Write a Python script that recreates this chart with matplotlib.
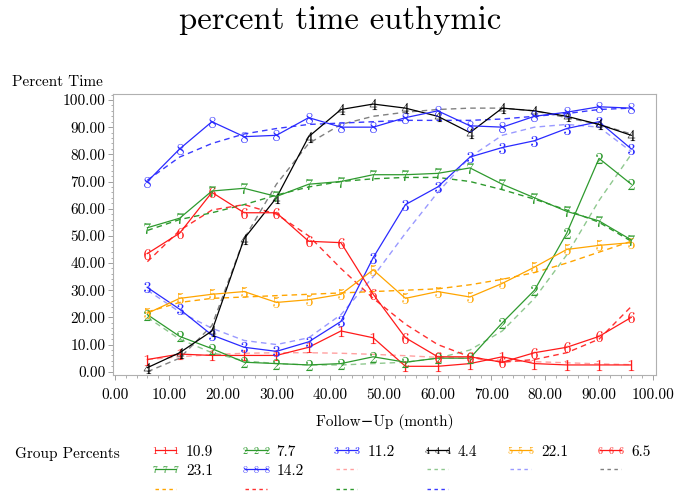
import numpy as np
import matplotlib
matplotlib.use("Agg")
import matplotlib.pyplot as plt
from matplotlib.lines import Line2D
from matplotlib.ticker import MultipleLocator, FormatStrFormatter

plt.rcParams.update({"font.family": ["cmr10", "DejaVu Serif"], "mathtext.fontset": "cm",
                     "axes.formatter.use_mathtext": True})

# follow-up months
months = [6, 12, 18, 24, 30, 36, 42, 48, 54, 60, 66, 72, 78, 84, 90, 96]
group_pct = ["10.9", "7.7", "11.2", "4.4", "22.1", "6.5", "23.1", "14.2"]

# observed percent time euthymic, groups 1..8
obs1 = [4.5, 6.5, 6.0, 6.0, 6.0, 9.0, 15.0, 12.5, 2.0, 2.0, 3.0, 5.5, 3.0, 2.5, 2.5, 2.5]
obs2 = [21, 13, 8.5, 3.5, 3, 2.5, 3, 5.5, 3.5, 5, 5, 18, 30, 51, 78.5, 69]
obs3 = [31, 23, 13.5, 9, 7.5, 11, 18.5, 42, 61.5, 68, 79, 82.5, 85, 89.5, 92, 82]
obs4 = [1.5, 7, 15, 49, 64, 86.5, 96.5, 98.5, 97, 94, 88, 97, 96, 94, 91, 87]
obs5 = [21.5, 27, 28.5, 29.5, 25.5, 26.5, 28.5, 37.5, 27, 29.5, 27.5, 32.5, 38.5, 45, 46.5, 47.5]
obs6 = [43.5, 51, 66, 58.5, 58.5, 48, 47.5, 28.5, 12.5, 5.5, 5.5, 3.5, 7, 9, 13, 20]
obs7 = [53, 56.5, 66.5, 67.5, 64.5, 69, 70, 72.5, 72.5, 73, 75, 69, 64, 59, 55.5, 48.5]
obs8 = [70, 82, 92, 86.5, 87, 93.5, 90, 90, 93.5, 96, 90.5, 90, 94, 95.5, 97.5, 97]

# predicted trajectories, groups 1..8
pred1 = [4.5, 5.5, 6.3, 6.8, 7.0, 7.0, 6.8, 6.4, 5.9, 5.3, 4.8, 4.2, 3.7, 3.3, 2.9, 2.6]
pred2 = [20, 12, 7, 4, 3, 2.5, 2.5, 3, 3.5, 5, 8, 15, 27, 43, 63, 80]
pred3 = [30, 22, 16, 11.5, 10, 12.5, 21, 35, 51, 66, 79, 87, 90, 91, 90, 81]
pred4 = [0, 5, 17, 49, 69, 84, 91, 94, 95.5, 96.5, 97, 97, 96, 93.5, 91, 87.5]
pred5 = [22, 25.5, 27, 27.5, 28, 28.5, 29, 29.5, 30, 30.5, 32, 34, 36.5, 40, 44, 48]
pred6 = [40.5, 52, 59.5, 61.5, 58, 50, 38, 27, 17.5, 10, 5.5, 3.5, 4.5, 7, 12, 24]
pred7 = [52, 56, 58.5, 61.5, 65, 68, 70, 71, 71.5, 71.5, 70, 67, 63.5, 59.5, 55, 48]
pred8 = [70.5, 79, 84, 87.5, 89.5, 91, 91.5, 92, 92.5, 92.5, 92.5, 93, 94, 95, 96.5, 97]

obs = [obs1, obs2, obs3, obs4, obs5, obs6, obs7, obs8]
pred = [pred1, pred2, pred3, pred4, pred5, pred6, pred7, pred8]
obs_col = ["#ff1a1a", "#2e9a2e", "#2a2aff", "#000000", "#ffa500", "#ff1a1a", "#2e9a2e", "#2a2aff"]
pred_col = ["#ffa0a0", "#8fc88f", "#9a9aff", "#808080", "#ffa500", "#ff3030", "#2e9a2e", "#3a3aff"]

fig = plt.figure(figsize=(6.76, 4.98), dpi=100)
ax = fig.add_axes([113/676, 1-375/498, 543/676, 281/498])

for i in range(8):
    ax.plot(months, pred[i], color=pred_col[i], lw=1.0, ls=(0, (4, 3)))
for i in range(8):
    ax.plot(months, obs[i], color=obs_col[i], lw=0.9, marker=f"${i+1}$", ms=8,
            mew=0, mfc=obs_col[i])

ax.set_xlim(-0.4, 100.6); ax.set_ylim(-1.2, 102.2)
ax.xaxis.set_major_locator(MultipleLocator(10)); ax.xaxis.set_minor_locator(MultipleLocator(2))
ax.yaxis.set_major_locator(MultipleLocator(10)); ax.yaxis.set_minor_locator(MultipleLocator(2))
ax.xaxis.set_major_formatter(FormatStrFormatter("%.2f"))
ax.yaxis.set_major_formatter(FormatStrFormatter("%.2f"))
for s in ax.spines.values():
    s.set_color("#b0b0b0"); s.set_linewidth(0.8)
ax.tick_params(which="major", direction="out", length=3.5, width=0.7, color="#a0a0a0",
               labelsize=11, pad=2)
ax.tick_params(which="minor", direction="out", length=1.8, width=0.6, color="#a0a0a0")
ax.tick_params(axis="x", which="major", pad=6)
ax.set_xlabel("Follow\u2212Up (month)", fontsize=11, labelpad=9)

fig.text(12/676, 1-82/498, "Percent Time", fontsize=11, va="center", ha="left")
fig.text(0.503, 1-20/498, "percent time euthymic", fontsize=23.5, ha="center", va="center")
fig.text(15/676, 1-454/498, "Group Percents", fontsize=11, va="center", ha="left")

# legend: observed (with markers) then predicted (dashed)
h_obs = [Line2D([], [], color=obs_col[i], lw=0.9, marker=f"${i+1}$", ms=5, mew=0)
         for i in range(8)]
h_pred = [Line2D([], [], color=pred_col[i], lw=1.0, ls=(0, (2.5, 2.5))) for i in range(8)]
order_h = [h_obs[0], h_obs[6], h_pred[4], h_obs[1], h_obs[7], h_pred[5],
           h_obs[2], h_pred[0], h_pred[6], h_obs[3], h_pred[1], h_pred[7],
           h_obs[4], h_pred[2], h_obs[5], h_pred[3]]
order_l = [group_pct[0], group_pct[6], " ", group_pct[1], group_pct[7], " ",
           group_pct[2], " ", " ", group_pct[3], " ", " ",
           group_pct[4], " ", group_pct[5], " "]
fig.legend(order_h, order_l, ncol=6, loc="upper left", bbox_to_anchor=(150/676, 1-445/498),
           frameon=False, fontsize=11, numpoints=3, handlelength=2.0, handletextpad=0.35,
           columnspacing=1.8, labelspacing=0.35, borderpad=0, borderaxespad=0)

fig.savefig("out.png", dpi=100)
